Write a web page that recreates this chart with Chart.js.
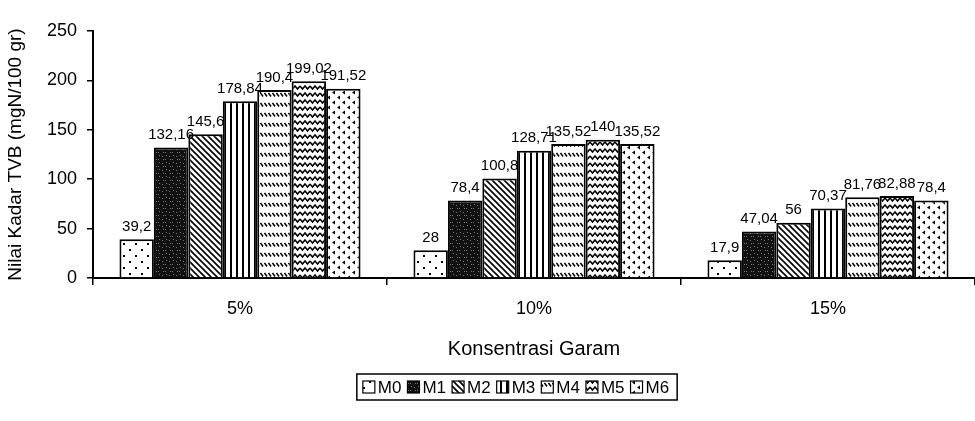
<!DOCTYPE html>
<html>
<head>
<meta charset="utf-8">
<script src="https://cdn.jsdelivr.net/npm/chart.js@4.4.1/dist/chart.umd.min.js"></script>
<style>
  html, body { margin: 0; padding: 0; background: #fff; }
  #wrap { width: 975px; height: 421px; }
</style>
</head>
<body>
<div id="wrap"><canvas id="chartTVB"></canvas></div>
<script>
// konsentrasi garam (sumbu x)
const kategori = ['5%', '10%', '15%'];
const namaSeri = ['M0', 'M1', 'M2', 'M3', 'M4', 'M5', 'M6'];

// nilai kadar TVB tiap perlakuan (mgN/100 gr)
const nilaiM0 = [39.2, 28, 17.9];
const nilaiM1 = [132.16, 78.4, 47.04];
const nilaiM2 = [145.6, 100.8, 56];
const nilaiM3 = [178.84, 128.71, 70.37];
const nilaiM4 = [190.4, 135.52, 81.76];
const nilaiM5 = [199.02, 140, 82.88];
const nilaiM6 = [191.52, 135.52, 78.4];

// label sumbu y
const tickY = [0, 50, 100, 150, 200, 250];

const FONT = '"Liberation Sans", Arial, sans-serif';
Chart.defaults.font.family = FONT;
Chart.defaults.color = '#000';

const canvas = document.getElementById('chartTVB');
const ctx = canvas.getContext('2d');

// bikin pola arsiran
function buatPola(w, h, dasar, gambar) {
    const c = document.createElement('canvas');
    c.width = w;
    c.height = h;
    const g = c.getContext('2d');
    g.fillStyle = dasar;
    g.fillRect(0, 0, w, h);
    g.fillStyle = '#000';
    g.strokeStyle = '#000';
    gambar(g);
    return ctx.createPattern(c, 'repeat');
}

// M0: titik jarang
const polaM0 = buatPola(12, 12, '#fff', function(g){
    g.fillRect(3, 3, 2, 2);
    g.fillRect(9, 9, 2, 2);
});
// M1: hitam berbintik
const polaM1 = buatPola(7, 7, '#111', function(g){
    g.fillStyle = '#777';
    g.fillRect(1, 2, 1, 1);
    g.fillRect(4, 5, 1, 1);
    g.fillRect(5, 1, 1, 1);
    g.fillRect(2, 5, 1, 1);
});
// M2: garis miring
const polaM2 = buatPola(6, 6, '#fff', function(g){
    g.lineWidth = 1.6;
    g.beginPath();
    g.moveTo(-1, -1); g.lineTo(7, 7);
    g.moveTo(-4, 2); g.lineTo(4, 10);
    g.moveTo(2, -4); g.lineTo(10, 4);
    g.stroke();
});
// M3: garis tegak
const polaM3 = buatPola(6, 6, '#fff', function(g){
    g.fillRect(2, 0, 2, 6);
});
// M4: baris garis pendek miring
const polaM4 = buatPola(4, 10, '#fff', function(g){
    g.lineWidth = 1.5;
    g.beginPath();
    g.moveTo(0.5, 3); g.lineTo(3, 6.5);
    g.stroke();
});
// M5: garis bergelombang
const polaM5 = buatPola(10, 7, '#fff', function(g){
    g.lineWidth = 1.5;
    g.beginPath();
    g.moveTo(0, 2);
    g.lineTo(2.5, 5);
    g.lineTo(5, 2);
    g.lineTo(7.5, 5);
    g.lineTo(10, 2);
    g.stroke();
});
// M6: tanda kecil "<"
const polaM6 = buatPola(10, 10, '#fff', function(g){
    g.beginPath();
    g.moveTo(5, 0.5); g.lineTo(2, 2.5); g.lineTo(5, 4.5); g.closePath();
    g.moveTo(10, 5.5); g.lineTo(7, 7.5); g.lineTo(10, 9.5); g.closePath();
    g.fill();
});

const semuaNilai = [nilaiM0, nilaiM1, nilaiM2, nilaiM3, nilaiM4, nilaiM5, nilaiM6];
const semuaPola = [polaM0, polaM1, polaM2, polaM3, polaM4, polaM5, polaM6];

const datasets = namaSeri.map(function(nama, i){
    return {
        label: nama,
        data: semuaNilai[i],
        backgroundColor: semuaPola[i],
        borderColor: '#000',
        borderWidth: 2,
        categoryPercentage: 0.82,
        barPercentage: 1.0
    };
});

// angka di atas batang (pakai koma desimal)
const labelNilai = {
    id: 'labelNilai',
    afterDatasetsDraw(chart) {
        const c = chart.ctx;
        c.save();
        c.font = '15px ' + FONT;
        c.fillStyle = '#000';
        c.textAlign = 'center';
        c.textBaseline = 'bottom';
        chart.data.datasets.forEach(function(ds, i){
            chart.getDatasetMeta(i).data.forEach(function(bar, j){
                c.fillText(String(ds.data[j]).replace('.', ','), bar.x, bar.y - 5);
            });
        });
        c.restore();
    }
};

// legenda dalam kotak di bawah judul sumbu x
const legendaKotak = {
    id: 'legendaKotak',
    afterDraw(chart) {
        const c = chart.ctx;
        const tengahX = 516, tengahY = 387;
        const ikon = 12, jarakIkon = 3, jarakItem = 6;
        c.save();
        c.font = '17px ' + FONT;
        const lebarTeks = chart.data.datasets.map(function(ds){ return c.measureText(ds.label).width; });
        let total = 0;
        lebarTeks.forEach(function(w){ total += ikon + jarakIkon + w; });
        total += jarakItem * (lebarTeks.length - 1);
        let x = tengahX - total / 2;

        c.strokeStyle = '#000';
        c.lineWidth = 1.5;
        c.strokeRect(x - 6, tengahY - 13, total + 14, 26);

        c.textAlign = 'left';
        c.textBaseline = 'middle';
        chart.data.datasets.forEach(function(ds, i){
            c.fillStyle = ds.backgroundColor;
            c.fillRect(x, tengahY - ikon / 2, ikon, ikon);
            c.lineWidth = 1.2;
            c.strokeRect(x, tengahY - ikon / 2, ikon, ikon);
            c.fillStyle = '#000';
            c.fillText(ds.label, x + ikon + jarakIkon, tengahY + 1);
            x += ikon + jarakIkon + lebarTeks[i] + jarakItem;
        });
        c.restore();
    }
};

const chartTVB = new Chart(ctx, {
    type: 'bar',
    data: {
        labels: kategori,
        datasets: datasets
    },
    options: {
        responsive: true,
        maintainAspectRatio: false,
        animation: false,
        layout: {
            padding: { top: 31, right: 0, bottom: 58, left: 4 }
        },
        plugins: {
            tooltip: { enabled: false },
            legend: { display: false }
        },
        scales: {
            x: {
                offset: true,
                grid: {
                    offset: true,
                    drawOnChartArea: false,
                    tickLength: 7,
                    color: '#000',
                    lineWidth: 1.5
                },
                border: { color: '#000', width: 2 },
                ticks: { color: '#000', font: { size: 18 }, padding: 13 },
                title: {
                    display: true,
                    text: 'Konsentrasi Garam',
                    color: '#000',
                    font: { size: 20 },
                    padding: { top: 6, bottom: 2 }
                },
                afterFit(s) { s.height = 85; }
            },
            y: {
                min: 0,
                max: 250,
                afterBuildTicks(s) {
                    s.ticks = tickY.map(function(v){ return { value: v }; });
                },
                grid: {
                    drawOnChartArea: false,
                    tickLength: 6,
                    color: '#000',
                    lineWidth: 1.5
                },
                border: { color: '#000', width: 2 },
                ticks: { color: '#000', font: { size: 18 }, padding: 10 },
                title: {
                    display: true,
                    text: 'Nilai Kadar TVB (mgN/100 gr)',
                    color: '#000',
                    font: { size: 19 },
                    padding: { top: 0, bottom: 2 }
                },
                afterFit(s) { s.width = 89; }
            }
        }
    },
    plugins: [labelNilai, legendaKotak]
});
</script>
</body>
</html>
